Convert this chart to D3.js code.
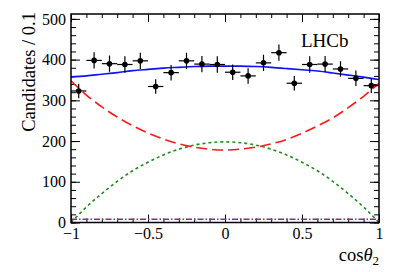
<!DOCTYPE html>
<html>
<head>
<meta charset="utf-8">
<script src="https://cdn.jsdelivr.net/npm/d3@7"></script>
<style>
  body { margin: 0; background: #fff; }
  svg text { font-family: "Liberation Serif", "DejaVu Serif", serif; }
</style>
</head>
<body>
<svg id="chart" width="399" height="272"></svg>
<script>
// binned data, bin width 0.1
const binCenters = [-0.95, -0.85, -0.75, -0.65, -0.55, -0.45, -0.35, -0.25, -0.15, -0.05,
                     0.05,  0.15,  0.25,  0.35,  0.45,  0.55,  0.65,  0.75,  0.85,  0.95]
const counts     = [323, 398, 390, 388, 397, 334, 368, 397, 389, 388,
                    369, 360, 392, 417, 342, 388, 389, 377, 354, 336]
const countErrs  = [18, 20, 20, 20, 20, 18, 19, 20, 20, 20,
                    19, 19, 20, 20, 18, 20, 20, 19, 19, 18]

// fit components sampled along cos(theta2)
const curveX     = [-1, -0.9, -0.8, -0.7, -0.6, -0.5, -0.4, -0.3, -0.2, -0.1, 0,
                    0.1, 0.2, 0.3, 0.4, 0.5, 0.6, 0.7, 0.8, 0.9, 1]
const totalFit   = [357, 360, 364, 368, 373, 376, 379, 381, 383, 384, 384,
                    384, 383, 381, 378, 375, 372, 367, 362, 357, 351]
const redComp    = [348, 313, 284, 259, 238, 220, 205, 193, 185, 180, 178,
                    180, 185, 193, 204, 219, 237, 257, 282, 310, 342]
const greenComp  = [0, 38, 71, 101, 127, 148, 166, 180, 190, 196, 198,
                    196, 190, 180, 166, 148, 127, 101, 71, 38, 0]
const purpleComp = [8, 8, 8, 8, 8, 8, 8, 8, 8, 8, 8,
                    8, 8, 8, 8, 8, 8, 8, 8, 8, 8]

const xTicks      = [-1, -0.5, 0, 0.5, 1]
const xTickLabels = ['\u22121', '\u22120.5', '0', '0.5', '1']
const yTicks      = [0, 100, 200, 300, 400, 500]
const yTickLabels = ['0', '100', '200', '300', '400', '500']

const
  plotLeft   = 71,
  plotRight  = 379,
  plotTop    = 14,
  plotBottom = 222.5,
  svg        = d3.select('#chart')

const xScale = d3.scaleLinear().domain([-1, 1]).range([plotLeft, plotRight])
const yScale = d3.scaleLinear().domain([0, 512]).range([plotBottom, plotTop])

const xMinor = d3.range(-10, 11).map(i => i / 10)
const yMinor = d3.range(0, 26).map(i => i * 20)

// axes: ticks pointing inward on all four sides
function axisPair(axisFn, scale, pos, major, minor, labels, majorLen, minorLen, withLabels)
{
  const g = svg.append('g').attr('transform', pos)
  g.call(axisFn(scale).tickValues(minor).tickSize(minorLen).tickFormat(''))
  const gm = svg.append('g').attr('transform', pos)
  gm.call(axisFn(scale).tickValues(major).tickSize(majorLen)
    .tickFormat((d, i) => withLabels ? labels[i] : ''))
  ;[g, gm].forEach(s =>
  {
    s.select('.domain').remove()
    s.selectAll('line').attr('stroke', '#000').attr('stroke-width', 1)
  })
  return gm
}

const xb = axisPair(d3.axisBottom, xScale, `translate(0,${plotBottom})`, xTicks, xMinor, xTickLabels, -8, -4, true)
xb.selectAll('text').attr('y', 16.5).attr('dy', null).attr('font-size', 16).attr('fill', '#000')
axisPair(d3.axisTop, xScale, `translate(0,${plotTop})`, xTicks, xMinor, xTickLabels, -8, -4, false)
const yl = axisPair(d3.axisLeft, yScale, `translate(${plotLeft},0)`, yTicks, yMinor, yTickLabels, -9, -5, true)
yl.selectAll('text').attr('x', -5).attr('font-size', 16).attr('fill', '#000')
axisPair(d3.axisRight, yScale, `translate(${plotRight},0)`, yTicks, yMinor, yTickLabels, -9, -5, false)

// fit components
svg.append('clipPath').attr('id', 'clip')
  .append('rect')
  .attr('x', plotLeft).attr('y', plotTop)
  .attr('width', plotRight - plotLeft).attr('height', plotBottom - plotTop)

function drawCurve(values, color, width, dash)
{
  const line = d3.line()
    .x((d, i) => xScale(curveX[i]))
    .y(d => yScale(d))
    .curve(d3.curveNatural)
  svg.append('path')
    .attr('clip-path', 'url(#clip)')
    .attr('d', line(values))
    .attr('fill', 'none')
    .attr('stroke', color)
    .attr('stroke-width', width)
    .attr('stroke-dasharray', dash)
}

drawCurve(purpleComp, '#8a2b8a', 1.5, '6,2,1.5,2')
drawCurve(greenComp, '#1f8a1f', 1.6, '3,3')
drawCurve(redComp, '#ff1a1a', 1.6, '11,5')
drawCurve(totalFit, '#1010ff', 1.6, null)

// data points with error bars
const pts = svg.append('g')
binCenters.forEach((c, i) =>
{
  const
    x = xScale(c),
    y = yScale(counts[i])
  pts.append('line')
    .attr('x1', xScale(c - 0.05)).attr('x2', xScale(c + 0.05))
    .attr('y1', y).attr('y2', y)
    .attr('stroke', '#000').attr('stroke-width', 1.2)
  pts.append('line')
    .attr('x1', x).attr('x2', x)
    .attr('y1', yScale(counts[i] - countErrs[i])).attr('y2', yScale(counts[i] + countErrs[i]))
    .attr('stroke', '#000').attr('stroke-width', 1.2)
  pts.append('circle')
    .attr('cx', x).attr('cy', y).attr('r', 2.8).attr('fill', '#000')
})

// frame
svg.append('rect')
  .attr('x', plotLeft).attr('y', plotTop)
  .attr('width', plotRight - plotLeft).attr('height', plotBottom - plotTop)
  .attr('fill', 'none').attr('stroke', '#000').attr('stroke-width', 1.5)

// labels
svg.append('text')
  .attr('transform', `translate(35,${plotTop - 2}) rotate(-90)`)
  .attr('text-anchor', 'end')
  .attr('font-size', 18.5)
  .text('Candidates / 0.1')

const xt = svg.append('text')
  .attr('x', plotRight).attr('y', 261)
  .attr('text-anchor', 'end')
  .attr('font-size', 18.5)
xt.append('tspan').text('cos')
xt.append('tspan').attr('font-style', 'italic').text('\u03b8')
xt.append('tspan').attr('font-size', 13).attr('dy', 4).text('2')

svg.append('text')
  .attr('x', 301).attr('y', 46.5)
  .attr('font-size', 19)
  .text('LHCb')
</script>
</body>
</html>
